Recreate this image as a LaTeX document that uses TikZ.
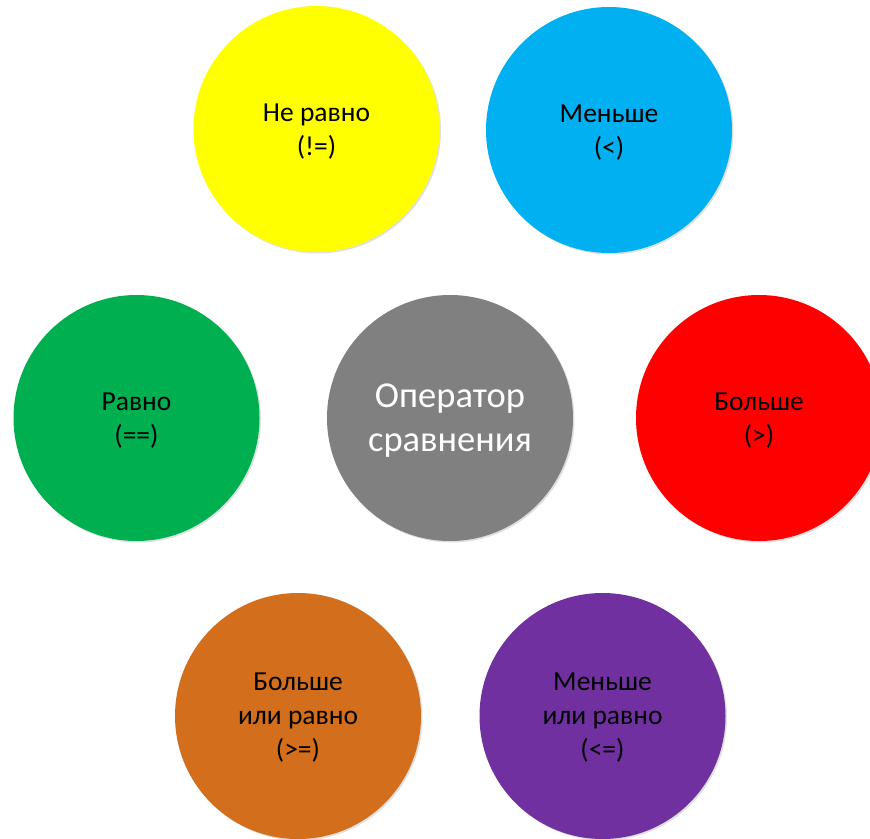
\documentclass[tikz,border=0pt]{standalone}
\usepackage{fontspec}
\setmainfont{Carlito}
\usetikzlibrary{shadows}
\definecolor{cyel}{HTML}{FFFF00}
\definecolor{cblu}{HTML}{00B0F0}
\definecolor{cgrn}{HTML}{00B050}
\definecolor{cgry}{HTML}{808080}
\definecolor{cred}{HTML}{FF0000}
\definecolor{cora}{HTML}{D26E1C}
\definecolor{cpur}{HTML}{7030A0}
\tikzset{
  bubble/.style={circle, minimum size=246pt, inner sep=0pt,
    drop shadow={shadow xshift=1.5pt, shadow yshift=-1.5pt, fill=black, opacity=0.12}},
  lbl/.style={align=center, inner sep=0pt, text=black, font=\fontsize{27.5}{34}\selectfont},
  biglbl/.style={align=center, inner sep=0pt, text=white, font=\fontsize{36.5}{44}\selectfont},
}
\begin{document}
\begin{tikzpicture}[x=1pt,y=-1pt]
\useasboundingbox (0,0) rectangle (870,838);
\node[bubble, fill=cyel] (ne) at (316.5,129) {};
\node[bubble, fill=cblu] (lt) at (609,130) {};
\node[bubble, fill=cgrn] (eq) at (136.5,418) {};
\node[bubble, fill=cgry] (op) at (450,418) {};
\node[bubble, fill=cred] (gt) at (759,418) {};
\node[bubble, fill=cora] (ge) at (298,716) {};
\node[bubble, fill=cpur] (le) at (602.5,716) {};
\node[lbl] (tne) at ([yshift=-3pt]ne.center) {Не равно\\(!=)};
\node[lbl] (tlt) at ([yshift=-3pt]lt.center) {Меньше\\(<)};
\node[lbl] (teq) at ([yshift=-3pt]eq.center) {Равно\\(==)};
\node[biglbl] (top) at ([yshift=-3pt]op.center) {Оператор\\сравнения};
\node[lbl] (tgt) at ([yshift=-3pt]gt.center) {Больше\\(>)};
\node[lbl] (tge) at ([yshift=-2pt]ge.center) {Больше\\или равно\\(>=)};
\node[lbl] (tle) at ([yshift=-2pt]le.center) {Меньше\\или равно\\(<=)};
\end{tikzpicture}
\end{document}
